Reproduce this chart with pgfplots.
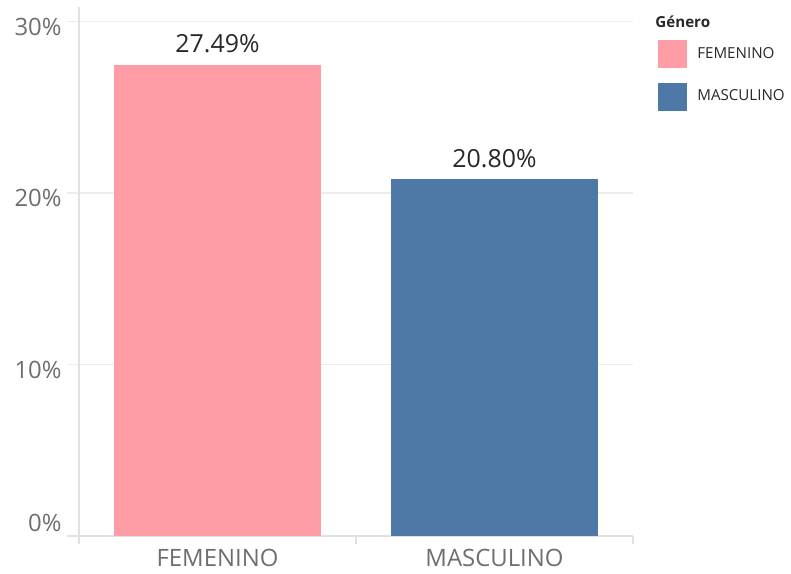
\documentclass[border=0pt]{standalone}
\usepackage{fontspec}
\setmainfont{Open Sans}
\usepackage{pgfplots}
\pgfplotsset{compat=1.18}
\definecolor{fem}{RGB}{255,157,167}
\definecolor{masc}{RGB}{78,121,167}
\definecolor{gridc}{RGB}{236,236,236}
\definecolor{axc}{RGB}{225,225,225}
\definecolor{tickc}{RGB}{110,110,110}
\definecolor{valc}{RGB}{40,40,40}

\begin{document}
\begin{tikzpicture}
\useasboundingbox (0,0) rectangle (395.5bp,287bp);
\begin{axis}[
    at={(39.5bp,19bp)}, anchor=south west,
    scale only axis,
    width=277bp, height=264.5bp,
    xmin=-0.5, xmax=1.5,
    ymin=0, ymax=30.85,
    ybar, bar shift=0pt, bar width=0.75,
    axis x line*=bottom, axis y line*=left,
    axis line style={axc, line width=0.6bp, -},
    xtick={0,1},
    xticklabels={FEMENINO,MASCULINO},
    x tick style={draw=none},
    xticklabel style={font=\fontsize{12}{14}\selectfont, text=tickc, inner sep=0pt, yshift=-0.5bp},
    ytick={10,20,30},
    yticklabels={10\%,20\%,30\%},
    ymajorgrids,
    grid style={gridc, line width=0.6bp},
    y tick style={draw=gridc, line width=0.6bp},
    major tick length=6bp, tick align=outside,
    yticklabel style={font=\fontsize{12}{14}\selectfont, text=tickc, inner sep=0pt, xshift=-2.5bp, yshift=-2.5bp},
    extra y ticks={1.05},
    extra y tick labels={0\%},
    extra y tick style={grid=none, y tick style={draw=none}},
    /pgf/number format/assume math mode=true,
    nodes near coords={\pgfmathprintnumber[fixed,fixed zerofill,precision=2]{\pgfplotspointmeta}\%},
    nodes near coords style={font=\fontsize{12.5}{14}\selectfont, text=valc, inner sep=0pt, anchor=south, yshift=5.5bp},
    clip=false,
    legend cell align=left,
    legend image code/.code={\fill[#1] (0bp,-7bp) rectangle (14.5bp,7bp);},
    legend style={at={(1.045,0.9376)}, anchor=north west, draw=none, fill=none,
        inner sep=0pt, row sep=7.25bp,
        nodes={inner sep=0pt, font=\fontsize{7.6}{9}\selectfont, text=valc},
        /tikz/every odd column/.style={column sep=5bp}},
]
\addplot[fill=fem, draw=none] coordinates {(0,27.49)};
\addlegendentry{FEMENINO}
\addplot[fill=masc, draw=none] coordinates {(1,20.80)};
\addlegendentry{MASCULINO}
\end{axis}
\draw[axc, line width=0.6bp] (33.5bp,19bp) -- (39.5bp,19bp);
\foreach \x in {39.5,178,316.5}
  \draw[axc, line width=0.6bp] (\x bp,19bp) -- (\x bp,15bp);
\node[anchor=west, inner sep=0pt, font=\bfseries\fontsize{7.6}{9}\selectfont, text=valc] at (327.5bp,276bp) {Género};
\end{tikzpicture}
\end{document}
